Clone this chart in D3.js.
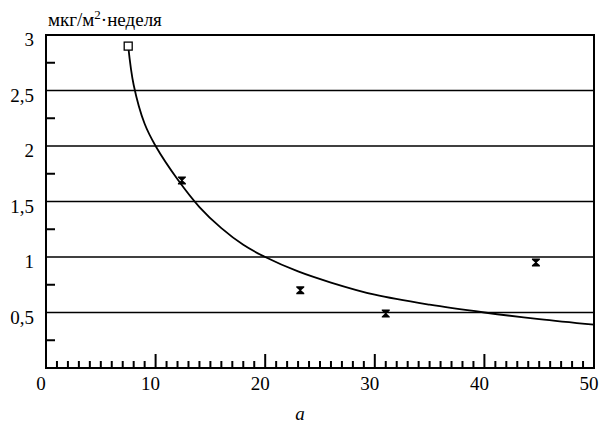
<!DOCTYPE html>
<html lang="ru">
<head>
<meta charset="UTF-8">
<title>chart</title>
<script src="https://d3js.org/d3.v7.min.js"></script>
<style>
  body { margin: 0; background: #fff; }
  svg text { font-family: "Times New Roman", Times, "Liberation Serif", "DejaVu Serif", "Noto Serif", serif; }
</style>
</head>
<body>
<svg id="chart" width="603" height="428"></svg>
<script>
// данные
const pointX = [12.4, 23.2, 31.0, 44.7];
const pointY = [1.69, 0.70, 0.49, 0.95];
const startPoint = [7.5, 2.9];
const curveX = [7.5, 8, 9, 10, 12, 14, 16, 18, 20, 23, 26, 30, 35, 40, 45, 50];
const curveY = [2.9, 2.55, 2.2, 2.0, 1.7, 1.45, 1.26, 1.11, 1.0, 0.87, 0.77, 0.66, 0.57, 0.5, 0.44, 0.39];
const yTicks = [0.5, 1, 1.5, 2, 2.5, 3];
const yLabels = ["0,5", "1", "1,5", "2", "2,5", "3"];
const xTicks = [0, 10, 20, 30, 40, 50];

const svg = d3.select("#chart");
const plot = { left: 46, right: 594, top: 35, bottom: 368 };

const x = d3.scaleLinear().domain([0, 50]).range([plot.left, plot.right]);
const y = d3.scaleLinear().domain([0, 3]).range([plot.bottom, plot.top]);

// сетка
svg.selectAll(".grid").data(yTicks.slice(0, -1)).enter().append("line")
  .attr("x1", plot.left).attr("x2", plot.right)
  .attr("y1", d => y(d)).attr("y2", d => y(d))
  .attr("stroke", "#000").attr("stroke-width", 1.3);

// рамка
svg.append("rect").attr("x", plot.left).attr("y", plot.top)
  .attr("width", plot.right - plot.left).attr("height", plot.bottom - plot.top)
  .attr("fill", "none").attr("stroke", "#000").attr("stroke-width", 2);

// мелкие деления по Y
svg.selectAll(".ytick").data(d3.range(0.25, 3, 0.5)).enter().append("line")
  .attr("x1", plot.left).attr("x2", plot.left + 9)
  .attr("y1", d => y(d)).attr("y2", d => y(d))
  .attr("stroke", "#000").attr("stroke-width", 2);

// деления по X
svg.selectAll(".xtick").data(d3.range(1, 50)).enter().append("line")
  .attr("x1", d => x(d)).attr("x2", d => x(d))
  .attr("y1", plot.bottom).attr("y2", d => d % 10 === 0 ? plot.bottom - 14 : plot.bottom - 7)
  .attr("stroke", "#000").attr("stroke-width", 2);

// подписи
svg.selectAll(".ylab").data(yTicks).enter().append("text")
  .attr("x", 34).attr("y", d => y(d) + 11)
  .attr("text-anchor", "end").attr("font-size", 19)
  .text((d, i) => yLabels[i]);

svg.selectAll(".xlab").data(xTicks).enter().append("text")
  .attr("x", d => x(d) - 5).attr("y", 390)
  .attr("text-anchor", "middle").attr("font-size", 19)
  .text(d => d);

const title = svg.append("text").attr("x", 48).attr("y", 26).attr("font-size", 19);
title.append("tspan").text("мкг/м");
title.append("tspan").attr("dy", -7).attr("font-size", 13).text("2");
title.append("tspan").attr("dy", 7).text("·неделя");

svg.append("text").attr("x", 300).attr("y", 420)
  .attr("text-anchor", "middle").attr("font-size", 19).attr("font-style", "italic")
  .text("а");

// кривая
const line = d3.line().x(d => x(d[0])).y(d => y(d[1])).curve(d3.curveCatmullRom);
svg.append("path")
  .attr("d", line(curveX.map((v, i) => [v, curveY[i]])))
  .attr("fill", "none").attr("stroke", "#000").attr("stroke-width", 1.8);

// начальная точка
svg.append("rect")
  .attr("x", x(startPoint[0]) - 4).attr("y", y(startPoint[1]) - 4)
  .attr("width", 8).attr("height", 8)
  .attr("fill", "#fff").attr("stroke", "#000").attr("stroke-width", 1.3);

// точки-песочные часы
svg.selectAll(".pt").data(pointX).enter().append("path")
  .attr("transform", (d, i) => `translate(${x(d)},${y(pointY[i])})`)
  .attr("d", "M-4,-4H4V-2.8L0.8,0L4,2.8V4H-4V2.8L-0.8,0L-4,-2.8Z")
  .attr("fill", "#000");
</script>
</body>
</html>
